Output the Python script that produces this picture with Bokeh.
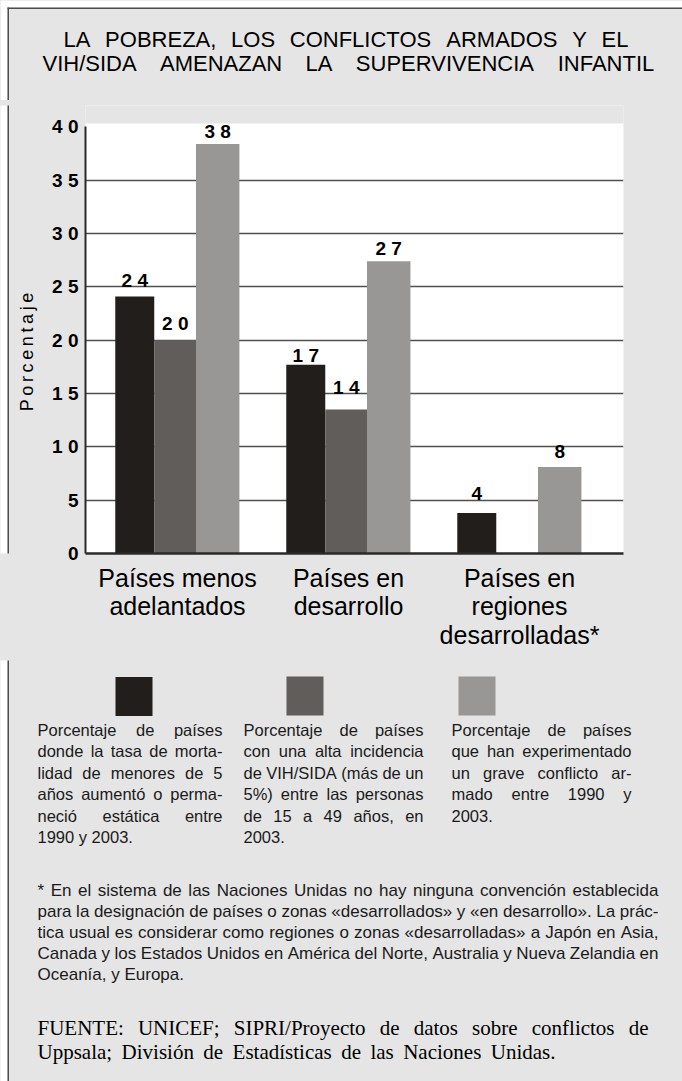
from bokeh.plotting import figure
from bokeh.layouts import column, row
from bokeh.models import Range1d, FixedTicker
from bokeh.core.properties import value
from bokeh.embed import file_html
from bokeh.resources import INLINE

# ---------------- data ----------------
title_lines = ["LA POBREZA, LOS CONFLICTOS ARMADOS Y EL",
               "VIH/SIDA AMENAZAN LA SUPERVIVENCIA INFANTIL"]
groups = ["Países menos\nadelantados", "Países en\ndesarrollo",
          "Países en\nregiones\ndesarrolladas*"]
# bar heights
mortalidad = [24.1, 17.7, 3.8]
vih_sida = [20.0, 13.5, None]
conflicto = [38.4, 27.4, 8.1]
# printed values above the bars
mortalidad_etiquetas = [24, 17, 4]
vih_sida_etiquetas = [20, 14, None]
conflicto_etiquetas = [38, 27, 8]
y_ticks = [0, 5, 10, 15, 20, 25, 30, 35, 40]
y_label = "Porcentaje"
legend_texts = [
    ["Porcentaje de países", "donde la tasa de morta-", "lidad de menores de 5",
     "años aumentó o perma-", "neció estática entre", "1990 y 2003."],
    ["Porcentaje de países", "con una alta incidencia", "de VIH/SIDA (más de un",
     "5%) entre las personas", "de 15 a 49 años, en", "2003."],
    ["Porcentaje de países", "que han experimentado", "un grave conflicto ar-",
     "mado entre 1990 y", "2003."],
]
nota = ["* En el sistema de las Naciones Unidas no hay ninguna convención establecida",
        "para la designación de países o zonas «desarrollados» y «en desarrollo». La prác-",
        "tica usual es considerar como regiones o zonas «desarrolladas» a Japón en Asia,",
        "Canada y los Estados Unidos en América del Norte, Australia y Nueva Zelandia en",
        "Oceanía, y Europa."]
fuente = ["FUENTE: UNICEF; SIPRI/Proyecto de datos sobre conflictos de",
          "Uppsala; División de Estadísticas de las Naciones Unidas."]

# ---------------- styles ----------------
colors = ["#221e1b", "#615d5b", "#989795"]
offsets = [-0.25, -0.013, 0.235]
widths = [0.228, 0.246, 0.254]
BG = "#e5e5e5"
EDGE = "#4d4d4d"
SANS = "Liberation Sans"
SERIF = "Liberation Serif"
W = 682
GRAY_HOST = {"background-color": BG}

ARIAL = {" ": 278, "!": 278, "%": 889, "(": 333, ")": 333, "*": 389, ",": 278, "-": 333,
         ".": 278, "/": 278, ":": 278, ";": 278, "«": 556, "»": 556,
         "A": 667, "B": 667, "C": 722, "D": 722, "E": 667, "F": 611, "G": 778, "H": 722,
         "I": 278, "J": 500, "K": 667, "L": 556, "M": 833, "N": 722, "O": 778, "P": 667,
         "Q": 778, "R": 722, "S": 667, "T": 611, "U": 722, "V": 667, "W": 944, "X": 667,
         "Y": 667, "Z": 611,
         "a": 556, "b": 556, "c": 500, "d": 556, "e": 556, "f": 278, "g": 556, "h": 556,
         "i": 222, "j": 222, "k": 500, "l": 222, "m": 833, "n": 556, "o": 556, "p": 556,
         "q": 556, "r": 333, "s": 500, "t": 278, "u": 556, "v": 500, "w": 722, "x": 500,
         "y": 500, "z": 500, "á": 556, "é": 556, "í": 278, "ó": 556, "ú": 556, "ñ": 556}
TIMES = {" ": 250, ".": 250, ":": 278, ";": 278, "/": 278,
         "C": 667, "D": 722, "E": 611, "F": 556, "I": 333, "N": 722, "P": 556, "R": 667,
         "S": 556, "T": 611, "U": 722,
         "a": 444, "b": 500, "c": 444, "d": 500, "e": 444, "f": 333, "i": 278, "í": 278,
         "l": 278, "n": 500, "o": 500, "ó": 500, "p": 500, "r": 333, "s": 389, "t": 278,
         "v": 500, "y": 500}


def text_fig(w, h):
    f = figure(width=w, height=h, x_range=Range1d(0, w), y_range=Range1d(h, 0),
               output_backend="svg", toolbar_location=None, tools="",
               x_axis_location=None, y_axis_location=None, min_border=0,
               styles=GRAY_HOST)
    f.grid.visible = False
    f.outline_line_color = None
    f.background_fill_color = BG
    f.border_fill_color = BG
    return f


def place(f, line, x0, x1, yc, size, font, metrics, justify, color="black"):
    words = line.split(" ")
    ws = [sum(metrics.get(c, 556) for c in w) * size / 1000 for w in words]
    if justify and len(words) > 1:
        gap = (x1 - x0 - sum(ws)) / (len(words) - 1)
    else:
        gap = metrics[" "] * size / 1000
    xs, x = [], x0
    for w in ws:
        xs.append(x)
        x += w + gap
    f.text(x=xs, y=[yc] * len(words), text=words, text_font=value(font),
           text_font_size=f"{size}px", text_align="left", text_baseline="middle",
           text_color=color)


# ---------------- title ----------------
TH = 100
tf = text_fig(W, TH)
tf.quad(left=[0, 0], right=[W, 7], top=[0, 0], bottom=[7, TH + 1], fill_color="white", line_color=None)
tf.quad(left=[7, 7], right=[W, 8.5], top=[7, 7], bottom=[8.5, TH + 1], fill_color=EDGE, line_color=None)
place(tf, title_lines[0], 63, 628, 39, 22, SANS, ARIAL, True)
place(tf, title_lines[1], 42, 655, 63, 22, SANS, ARIAL, True)

# ---------------- chart ----------------
XS, XE = -0.538, 2.608
YE = 42.0
FH = 448
CH = 560
p = figure(frame_width=538, frame_height=FH, min_border_left=76, min_border_right=W - 9 - 76 - 538,
           min_border_top=5, min_border_bottom=CH - 5 - FH,
           x_range=Range1d(XS, XE), y_range=Range1d(0, YE),
           output_backend="svg", toolbar_location=None, tools="", styles=GRAY_HOST)
p.background_fill_color = "white"
p.border_fill_color = BG
p.outline_line_color = None
# grey band above the 40 % level (chart area ends there)
p.quad(left=[XS - 1], right=[XE + 1], bottom=[40.31], top=[YE + 2], fill_color=BG, line_color=None)

p.xgrid.visible = False
p.ygrid.ticker = FixedTicker(ticks=y_ticks[1:-1])
p.ygrid.grid_line_color = "#505050"
p.ygrid.grid_line_width = 1.5

p.yaxis.ticker = FixedTicker(ticks=y_ticks)
p.yaxis.major_label_overrides = {t: " ".join(str(t)) for t in y_ticks}
p.yaxis.major_label_text_font = SANS
p.yaxis.major_label_text_font_style = "bold"
p.yaxis.major_label_text_font_size = "19px"
p.yaxis.major_label_text_color = "black"
p.yaxis.major_label_standoff = 7
p.yaxis.major_tick_out = 0
p.yaxis.major_tick_in = 0
p.yaxis.major_tick_line_color = None
p.yaxis.minor_tick_line_color = None
p.yaxis.axis_line_color = "#2a2a2a"
p.yaxis.axis_line_width = 2
p.yaxis.bounds = (0, 40)
p.yaxis.axis_label = "\u2009".join(y_label) + "\u00a0" * 9
p.yaxis.axis_label_text_font = SANS
p.yaxis.axis_label_text_font_style = "normal"
p.yaxis.axis_label_text_font_size = "18px"
p.yaxis.axis_label_text_color = "black"
p.yaxis.axis_label_standoff = 12

p.xaxis.ticker = FixedTicker(ticks=list(range(len(groups))))
p.xaxis.major_label_overrides = {i: g for i, g in enumerate(groups)}
p.xaxis.major_label_text_font = SANS
p.xaxis.major_label_text_font_size = "25px"
p.xaxis.major_label_text_color = "black"
p.xaxis.major_label_text_line_height = 1.02
p.xaxis.major_label_standoff = 10
p.xaxis.major_tick_out = 0
p.xaxis.major_tick_in = 0
p.xaxis.major_tick_line_color = None
p.xaxis.minor_tick_line_color = None
p.xaxis.axis_line_color = "#2a2a2a"
p.xaxis.axis_line_width = 2.5

pad = 17 * YE / FH
for s, (vals, labs) in enumerate([(mortalidad, mortalidad_etiquetas),
                                   (vih_sida, vih_sida_etiquetas),
                                   (conflicto, conflicto_etiquetas)]):
    xs, tops, ly, lt = [], [], [], []
    for g, (v, l) in enumerate(zip(vals, labs)):
        if v is None:
            continue
        xs.append(g + offsets[s])
        tops.append(v)
        ly.append(l + pad)
        lt.append(" ".join(str(l)))
    p.vbar(x=xs, top=tops, bottom=0, width=widths[s], fill_color=colors[s], line_color=None)
    p.text(x=xs, y=ly, text=lt, text_font=value(SANS), text_font_style="bold",
           text_font_size="19px", text_align="center", text_baseline="middle",
           text_color="black")

strip = text_fig(9, CH)
strip.quad(left=[-1, 7], right=[7, 8.5], top=[-1, -1], bottom=[CH + 1, CH + 1],
           fill_color=["white", EDGE], line_color=None)

# ---------------- legend + notes ----------------
BH = 1081 - TH - CH
bf = text_fig(W, BH)
bf.quad(left=[-1, 7], right=[7, 8.5], top=[-1, -1], bottom=[BH + 1, BH + 1],
        fill_color=["white", EDGE], line_color=None)
Y0 = TH + CH
sw_x = [115, 286, 458]
bf.quad(left=sw_x, right=[x + 37 for x in sw_x],
        top=[676.5 - Y0, 676 - Y0, 676 - Y0], bottom=[715.5 - Y0, 715 - Y0, 715 - Y0],
        fill_color=colors, line_color=None)
col_x = [(37, 222), (243, 423), (451, 631)]
for (x0, x1), lines in zip(col_x, legend_texts):
    for i, ln in enumerate(lines):
        place(bf, ln, x0, x1, 729 - Y0 + 21.5 * i, 16.5, SANS, ARIAL, i < len(lines) - 1, "#1a1a1a")
for i, ln in enumerate(nota):
    place(bf, ln, 37, 658, 889.5 - Y0 + 21.1 * i, 17, SANS, ARIAL, i < len(nota) - 1, "#1a1a1a")
place(bf, fuente[0], 37, 648, 1027 - Y0, 21, SERIF, TIMES, True)
place(bf, fuente[1], 37, 555, 1051 - Y0, 21, SERIF, TIMES, True)

layout = column(tf, row(strip, p, styles=GRAY_HOST), bf, styles=GRAY_HOST)
open("out.html", "w").write(file_html(layout, INLINE))
